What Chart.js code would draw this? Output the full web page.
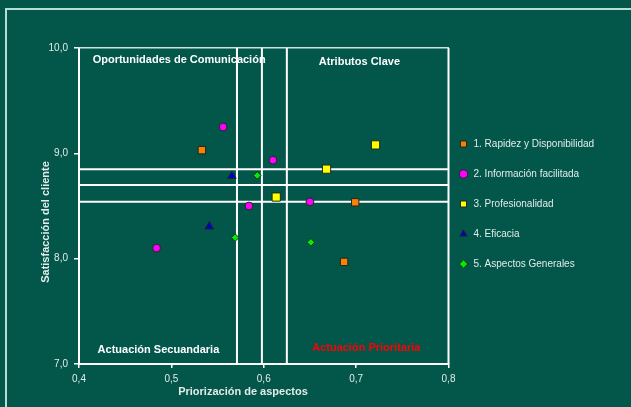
<!DOCTYPE html>
<html>
<head>
<meta charset="utf-8">
<script src="https://cdn.jsdelivr.net/npm/chart.js@4.4.1/dist/chart.umd.min.js"></script>
<style>
  html, body { margin: 0; padding: 0; background: #02564a; overflow: hidden; }
  #frame { position: absolute; left: 5px; top: 8px; width: 700px; height: 500px;
           border-left: 2px solid #b4ded6; border-top: 2px solid #b4ded6; }
  #wrap { position: absolute; left: 0; top: 0; width: 631px; height: 407px; }
</style>
</head>
<body>
<div id="frame"></div>
<div id="wrap"><canvas id="c" width="631" height="407"></canvas></div>
<script>
// Axis ticks
const xTicks = [0.4, 0.5, 0.6, 0.7, 0.8];
const yTicks = [7, 8, 9, 10];

// Series names
const seriesNames = [
  '1. Rapidez y Disponibilidad',
  '2. Información facilitada',
  '3. Profesionalidad',
  '4. Eficacia',
  '5. Aspectos Generales'
];

// Priorización (x) and satisfacción (y) for each series
const rapidezX = [0.533, 0.699, 0.687];
const rapidezY = [9.03, 8.535, 7.97];
const informacionX = [0.556, 0.610, 0.584, 0.484, 0.650];
const informacionY = [9.25, 8.935, 8.50, 8.10, 8.54];
const profesionalidadX = [0.721, 0.668, 0.6135];
const profesionalidadY = [9.08, 8.85, 8.585];
const eficaciaX = [0.5655, 0.541];
const eficaciaY = [8.785, 8.305];
const generalesX = [0.593, 0.569, 0.651];
const generalesY = [8.79, 8.20, 8.155];

// Reference lines dividing the quadrants
const vLines = [0.571, 0.598, 0.625];
const hLines = [8.85, 8.70, 8.54];

// Quadrant titles
const quadrantLabels = [
  'Oportunidades de Comunicación',
  'Atributos Clave',
  'Actuación Secuandaria',
  'Actuación Prioritaria'
];
const xTitle = 'Priorización de aspectos';
const yTitle = 'Satisfacción del cliente';

const FONT = '"Liberation Sans", Arial, sans-serif';
const TEXT = '#e4ebe8';

const pts = (xs, ys) => xs.map((x, i) => ({ x, y: ys[i] }));

const markerStyles = [
  { bg: '#ff8000', style: 'rect',     r: 5.2 },
  { bg: '#ff00ff', style: 'circle',   r: 3.9 },
  { bg: '#ffff00', style: 'rect',     r: 5.8 },
  { bg: '#0000cc', style: 'triangle', r: 5 },
  { bg: '#00ee00', style: 'rectRot',  r: 3.8 }
];
const seriesData = [
  pts(rapidezX, rapidezY),
  pts(informacionX, informacionY),
  pts(profesionalidadX, profesionalidadY),
  pts(eficaciaX, eficaciaY),
  pts(generalesX, generalesY)
];

const scatterSets = seriesData.map((data, i) => ({
  label: seriesNames[i],
  data,
  pointStyle: markerStyles[i].style,
  pointRadius: markerStyles[i].r,
  backgroundColor: markerStyles[i].bg,
  borderColor: '#1e2a20',
  borderWidth: 1
}));

const yLo = yTicks[0], yHi = yTicks[yTicks.length - 1];
const xLo = xTicks[0], xHi = xTicks[xTicks.length - 1];
const lineStyle = { showLine: true, pointRadius: 0, borderColor: '#ffffff', borderWidth: 2, refLine: true, label: '' };
const refSets = [
  ...vLines.map(v => ({ ...lineStyle, data: [{ x: v, y: yLo }, { x: v, y: yHi }] })),
  ...hLines.map(h => ({ ...lineStyle, data: [{ x: xLo, y: h }, { x: xHi, y: h }] }))
];

// Where the quadrant titles sit, in axis units
const quadrantPlacement = [
  { x: 0.5084, y: 9.886, color: '#ffffff' },
  { x: 0.7035, y: 9.867, color: '#ffffff' },
  { x: 0.486,  y: 7.133, color: '#ffffff' },
  { x: 0.711,  y: 7.155, color: '#ff0000' }
];

const annotate = {
  id: 'annotate',
  beforeDatasetsDraw(chart) {
    const { ctx, chartArea, scales: { x, y } } = chart;
    ctx.save();
    // right edge of the plot frame
    ctx.strokeStyle = '#ffffff';
    ctx.lineWidth = 2;
    ctx.beginPath();
    ctx.moveTo(chartArea.right, chartArea.top);
    ctx.lineTo(chartArea.right, chartArea.bottom);
    ctx.stroke();

    ctx.textAlign = 'center';
    ctx.textBaseline = 'middle';
    ctx.font = 'bold 11px ' + FONT;
    quadrantPlacement.forEach((p, i) => {
      ctx.fillStyle = p.color;
      ctx.fillText(quadrantLabels[i], x.getPixelForValue(p.x), y.getPixelForValue(p.y));
    });
    ctx.fillStyle = TEXT;
    ctx.fillText(xTitle, chartArea.left + 164, chartArea.bottom + 28);
    ctx.translate(chartArea.left - 33, chartArea.top + 174);
    ctx.rotate(-Math.PI / 2);
    ctx.fillText(yTitle, 0, 0);
    ctx.restore();
  }
};

const fmt = v => Number(v).toFixed(1).replace('.', ',');

new Chart(document.getElementById('c'), {
  type: 'scatter',
  data: { datasets: [...scatterSets, ...refSets] },
  plugins: [annotate],
  options: {
    responsive: false,
    animation: false,
    events: [],
    layout: { padding: { top: 11, right: 33, bottom: 0, left: 0 } },
    plugins: {
      tooltip: { enabled: false },
      legend: {
        position: 'right',
        labels: {
          usePointStyle: true,
          boxWidth: 10,
          boxHeight: 6,
          padding: 10,
          color: TEXT,
          font: { family: FONT, size: 10, lineHeight: '20px' },
          generateLabels(chart) {
            const base = Chart.defaults.plugins.legend.labels.generateLabels(chart);
            return base
              .filter(l => !chart.data.datasets[l.datasetIndex].refLine)
              .map(l => ({ ...l, text: [l.text] }));
          }
        }
      }
    },
    scales: {
      x: {
        type: 'linear', position: 'bottom',
        min: xLo, max: xHi,
        afterFit(s) { s.height = 43; },
        afterBuildTicks(s) { s.ticks = xTicks.map(v => ({ value: v })); },
        ticks: { color: TEXT, font: { family: FONT, size: 10 }, padding: 5, callback: fmt },
        grid: { drawOnChartArea: false, drawTicks: true, tickLength: 4, color: '#ffffff', lineWidth: 1.5 },
        border: { color: '#ffffff', width: 2 }
      },
      y: {
        type: 'linear', position: 'left',
        min: yLo, max: yHi,
        afterFit(s) { s.width = 79; },
        afterBuildTicks(s) { s.ticks = yTicks.map(v => ({ value: v })); },
        ticks: { color: TEXT, font: { family: FONT, size: 10 }, padding: 6, callback: fmt },
        grid: { drawOnChartArea: false, drawTicks: true, tickLength: 5, color: '#ffffff', lineWidth: 1.5 },
        border: { color: '#ffffff', width: 2 }
      },
      x2: {
        type: 'linear', position: 'top',
        afterFit(s) { s.height = 37; },
        ticks: { display: false },
        grid: { display: false },
        border: { color: '#cfe2dc', width: 1.5 }
      }
    }
  }
});
</script>
</body>
</html>
